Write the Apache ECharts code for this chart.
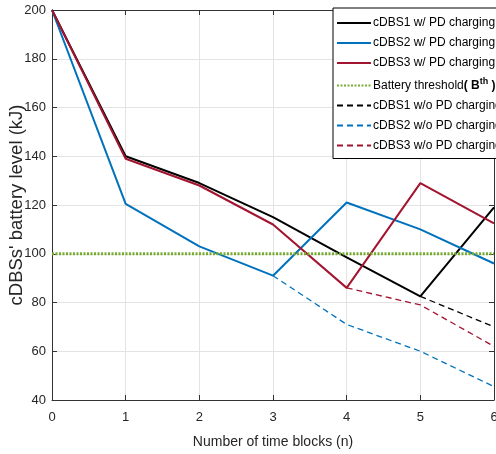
<!DOCTYPE html>
<html>
<head>
<meta charset="utf-8">
<script src="https://cdn.jsdelivr.net/npm/echarts@6/dist/echarts.min.js"></script>
<style>html,body{margin:0;padding:0;background:#fff;}#c{width:496px;height:454px;}</style>
</head>
<body>
<div id="c"></div>
<script>
const timeBlocks = [0, 1, 2, 3, 4, 5, 6];
const cdbs1With = [200, 140, 129, 115, 98.5, 82.5, 119];
const cdbs2With = [200, 120.5, 103, 91, 121, 110, 96];
const cdbs3With = [200, 139, 128, 112, 86, 129, 112.5];
const thresholdValue = 100;
const cdbs1Without = [null, null, null, null, null, 82.5, 70];
const cdbs2Without = [null, null, null, 91, 71, 60, 45.5];
const cdbs3Without = [null, null, null, null, 86, 79, 62];
const yTicks = [40, 60, 80, 100, 120, 140, 160, 180, 200];

const FONT = "'Liberation Sans', Arial, Helvetica, sans-serif";
const pairs = arr => timeBlocks.map((x, i) => [x, arr[i]]).filter(p => p[1] !== null);

const chart = echarts.init(document.getElementById('c'), null, {renderer: 'canvas'});
const axisLineColor = '#333333';
const mkSeries = (name, data, color, type, width) => ({
  name, type: 'line', data: pairs(data), symbol: 'none', smooth: false,
  lineStyle: {color, width, type}, itemStyle: {color}, z: 3
});

const option = {
  animation: false,
  backgroundColor: '#ffffff',
  textStyle: {fontFamily: FONT},
  grid: {left: 52, right: 2, top: 10, bottom: 54, show: false, containLabel: false, outerBoundsMode: 'none'},
  legend: {
    orient: 'vertical', left: 333, top: 8,
    itemWidth: 34, itemHeight: 14, itemGap: 8,
    padding: [9, 10, 7, 3],
    backgroundColor: '#ffffff', borderColor: '#000000', borderWidth: 1,
    itemStyle: {opacity: 0},
    textStyle: {fontFamily: FONT, fontSize: 12, color: '#000', padding: [0, 0, 0, -3],
      rich: {
        a: {fontFamily: FONT, fontSize: 12, color: '#000'},
        b: {fontFamily: FONT, fontSize: 12, fontWeight: 'bold', color: '#000'},
        c: {fontFamily: FONT, fontSize: 9, fontWeight: 'bold', color: '#000', padding: [0, 0, 8, 0]}
      }
    },
    formatter: name => name === 'Battery threshold'
      ? '{a|Battery threshold}{b|( B}{c|th}{b| )}' : name,
    data: ['cDBS1 w/ PD charging', 'cDBS2 w/ PD charging', 'cDBS3 w/ PD charging',
      'Battery threshold', 'cDBS1 w/o PD charging', 'cDBS2 w/o PD charging', 'cDBS3 w/o PD charging']
  },
  xAxis: [{
    type: 'value', min: 0, max: 6, interval: 1, position: 'bottom',
    name: 'Number of time blocks (n)', nameLocation: 'middle', nameGap: 35,
    nameTextStyle: {fontFamily: FONT, fontSize: 14, color: '#262626'},
    axisLine: {show: true, onZero: false, lineStyle: {color: axisLineColor, width: 1}},
    axisTick: {show: true, inside: true, length: 5, lineStyle: {color: axisLineColor}},
    axisLabel: {fontFamily: FONT, fontSize: 13, color: '#262626', margin: 11},
    splitLine: {show: true, lineStyle: {color: '#e3e3e3', width: 1}}
  }, {
    type: 'value', min: 0, max: 6, interval: 1, position: 'top',
    axisLine: {show: true, onZero: false, lineStyle: {color: axisLineColor, width: 1}},
    axisTick: {show: true, inside: true, length: 5, lineStyle: {color: axisLineColor}},
    axisLabel: {show: false}, splitLine: {show: false}
  }],
  yAxis: [{
    type: 'value', min: yTicks[0], max: yTicks[yTicks.length - 1], interval: 20, position: 'left',
    name: "cDBSs' battery level (kJ)", nameLocation: 'middle', nameGap: 26, nameRotate: 90,
    nameMoveOverlap: false,
    nameTextStyle: {fontFamily: FONT, fontSize: 18.5, color: '#262626'},
    axisLine: {show: true, onZero: false, lineStyle: {color: axisLineColor, width: 1}},
    axisTick: {show: true, inside: true, length: 5, lineStyle: {color: axisLineColor}},
    axisLabel: {fontFamily: FONT, fontSize: 13, color: '#262626', margin: 6},
    splitLine: {show: true, lineStyle: {color: '#e3e3e3', width: 1}}
  }, {
    type: 'value', min: yTicks[0], max: yTicks[yTicks.length - 1], interval: 20, position: 'right',
    axisLine: {show: true, onZero: false, lineStyle: {color: axisLineColor, width: 1}},
    axisTick: {show: true, inside: true, length: 5, lineStyle: {color: axisLineColor}},
    axisLabel: {show: false}, splitLine: {show: false}
  }],
  series: [
    mkSeries('cDBS1 w/ PD charging', cdbs1With, '#000000', 'solid', 2),
    mkSeries('cDBS2 w/ PD charging', cdbs2With, '#0072BD', 'solid', 2),
    mkSeries('cDBS3 w/ PD charging', cdbs3With, '#A2142F', 'solid', 2),
    mkSeries('Battery threshold', timeBlocks.map(() => thresholdValue), '#77AC30', [2, 1.5], 3),
    mkSeries('cDBS1 w/o PD charging', cdbs1Without, '#000000', [6, 4], 1.3),
    mkSeries('cDBS2 w/o PD charging', cdbs2Without, '#0072BD', [6, 4], 1.3),
    mkSeries('cDBS3 w/o PD charging', cdbs3Without, '#A2142F', [6, 4], 1.3)
  ]
};
chart.setOption(option);
</script>
</body>
</html>
